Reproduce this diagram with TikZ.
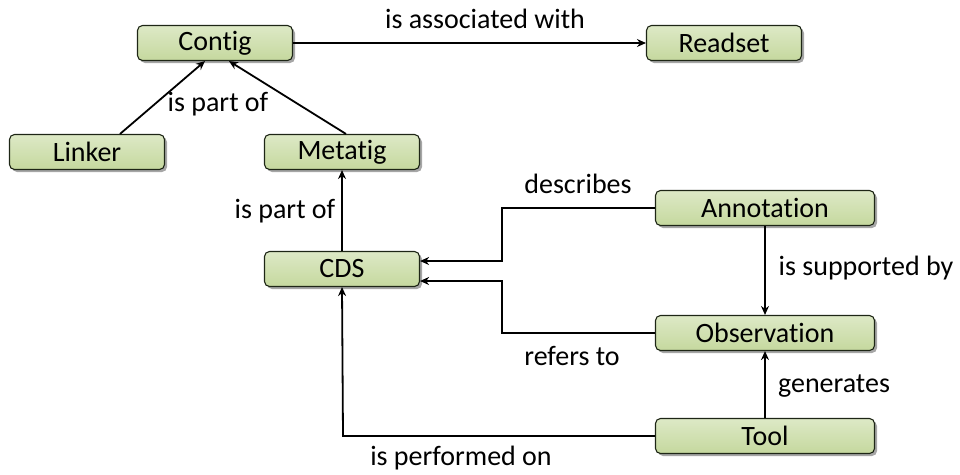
\documentclass[tikz,border=0pt]{standalone}
\usepackage{fontspec}
\setmainfont{Carlito}[Ligatures=NoCommon]
\usetikzlibrary{arrows.meta,shadows}
\definecolor{boxtop}{HTML}{DDE9C6}
\definecolor{boxbot}{HTML}{C5D89E}
\definecolor{boxedge}{HTML}{1E2616}
\begin{document}
\begin{tikzpicture}[x=1pt,y=-1pt,
  entity/.style={draw=boxedge, line width=1.1pt, rounded corners=5pt,
    top color=boxtop, bottom color=boxbot,
    minimum width=155pt, minimum height=35pt, inner sep=0pt,
    font=\fontsize{28}{32}\selectfont,
    drop shadow={shadow xshift=2.5pt, shadow yshift=-2.5pt, fill=black, opacity=0.35}},
  wide/.style={minimum width=219pt},
  rel/.style={line width=1.8pt, -{Stealth[length=9pt,width=8pt]}},
  lbl/.style={font=\fontsize{28}{32}\selectfont, inner sep=0pt}]
\useasboundingbox (0,0) rectangle (960,474);

% entities
\node[entity] (contig)  at (215,43)  {Contig};
\node[entity] (readset) at (724,43)  {Readset};
\node[entity] (linker)  at (87,152)  {Linker};
\node[entity] (metatig) at (342,152) {Metatig};
\node[entity] (cds)     at (342,269) {CDS};
\node[entity,wide] (annot) at (765,208) {Annotation};
\node[entity,wide] (obs)   at (765,333) {Observation};
\node[entity,wide] (tool)  at (765,436) {Tool};

% relations
\draw[rel] (contig.east) -- (readset.west);
\node[lbl] (l1) at (485,19) {is associated with};

\draw[rel] (linker.north -| 120,0) -- (contig.south -| 205,0);
\draw[rel] (metatig.north -| 346,0) -- (contig.south -| 229,0);
\node[lbl] (l2) at (218,104) {is part of};

\draw[rel] (cds.north) -- (metatig.south);
\node[lbl] (l3) at (285,211) {is part of};

\coordinate (jd) at (502,208);
\draw[rel] (annot.west) -- (jd) -- (jd |- 0,261) -- (cds.east |- 0,261);
\node[lbl] (l4) at (578,184) {describes};

\coordinate (jr) at (502,333);
\draw[rel] (obs.west) -- (jr) -- (jr |- 0,281) -- (cds.east |- 0,281);
\node[lbl] (l5) at (572,356) {refers to};

\draw[rel] (annot.south) -- (obs.north);
\node[lbl] (l6) at (866,268) {is supported by};

\draw[rel] (tool.north) -- (obs.south);
\node[lbl] (l7) at (834,386) {generates};

\coordinate (jt) at (343,436);
\draw[rel] (tool.west) -- (jt) -- (cds.south);
\node[lbl] (l8) at (461,458) {is performed on};
\end{tikzpicture}
\end{document}
